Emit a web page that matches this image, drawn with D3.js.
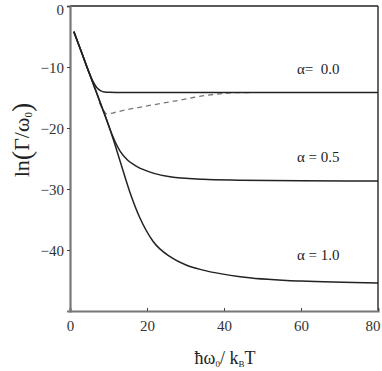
<!DOCTYPE html>
<html>
<head>
<meta charset="utf-8">
<script src="https://cdn.jsdelivr.net/npm/d3@7"></script>
<style>
  body { margin: 0; background: #fff; }
  svg, svg text { font-family: "Liberation Serif", "DejaVu Serif", serif; }
</style>
</head>
<body>
<svg width="382" height="371"></svg>
<script>
const svg = d3.select("svg");

// data
const xTicks = [0, 20, 40, 60, 80];
const yTicks = [0, -10, -20, -30, -40];

const alpha00X = [1, 3, 5, 6, 7, 8, 9, 10, 14, 30, 60, 80];
const alpha00Y = [-4.2, -7.6, -11.0, -12.4, -13.4, -13.9, -14.1, -14.15, -14.2, -14.2, -14.2, -14.2];

const dashedX = [7.6, 8.6, 9.6, 12, 14.7, 19, 23.4, 28, 32, 36, 40.7, 44, 47];
const dashedY = [-15.8, -17.0, -17.7, -17.4, -17.0, -16.5, -16.0, -15.5, -15.0, -14.6, -14.3, -14.2, -14.2];

const alpha05X = [1, 3, 5, 7, 9.5, 11, 13, 15, 17.3, 21.6, 26, 34.5, 44, 60, 80];
const alpha05Y = [-4.2, -7.6, -11.0, -14.4, -18.6, -21.2, -23.8, -25.3, -26.3, -27.4, -28.0, -28.4, -28.55, -28.65, -28.7];

const alpha10X = [1, 3, 5, 7, 9, 11, 13, 15.6, 18.2, 21.6, 26, 30.3, 34.6, 44.2, 60, 80];
const alpha10Y = [-4.2, -7.6, -11.0, -14.4, -17.8, -21.4, -25.4, -30.6, -34.8, -38.6, -41.1, -42.5, -43.3, -44.4, -45.1, -45.4];

const labels = ["α=\u00a0 0.0", "α = 0.5", "α = 1.0"];
const labelY = [-11.2, -25.6, -41.6];

const x = d3.scaleLinear().domain([0, 80]).range([70, 378]);
const y = d3.scaleLinear().domain([-50, 0]).range([311, 6]);

const line = d3.line()
  .x(d => x(d[0]))
  .y(d => y(d[1]))
  .curve(d3.curveMonotoneX);

function pts(xs, ys) { return xs.map((v, i) => [v, ys[i]]); }

// frame
svg.append("line").attr("x1", x(0)).attr("x2", x(80)).attr("y1", y(0)).attr("y2", y(0))
  .attr("stroke", "#222").attr("stroke-width", 1.5);
svg.append("line").attr("x1", x(80)).attr("x2", x(80)).attr("y1", y(0)).attr("y2", y(-50))
  .attr("stroke", "#333").attr("stroke-width", 1.5);

// axes
const xAxis = svg.append("g")
  .attr("transform", `translate(0,${y(-50)})`)
  .call(d3.axisBottom(x).tickValues(xTicks).tickSize(-3).tickPadding(9).tickFormat(d3.format("d")));
const yAxis = svg.append("g")
  .attr("transform", `translate(${x(0)},0)`)
  .call(d3.axisLeft(y).tickValues(yTicks).tickSize(3).tickPadding(3)
    .tickFormat(d => d === 0 ? "0" : "\u2212" + Math.abs(d)));

[xAxis, yAxis].forEach(a => {
  a.attr("font-family", "'Liberation Serif', serif");
  a.select(".domain").attr("stroke", "#777").attr("stroke-width", 2.2);
  a.selectAll(".tick line").attr("stroke", "#444");
  a.selectAll("text").attr("font-size", 15).attr("fill", "#333");
});
xAxis.selectAll(".tick").filter(d => d === 80).select("text").attr("text-anchor", "end").attr("dx", 2);
yAxis.selectAll(".tick text").attr("dy", "0.35em");
yAxis.selectAll(".tick").filter(d => d === 0).select("text").attr("dy", "0.55em");

// curves
svg.append("path").datum(pts(dashedX, dashedY)).attr("d", line)
  .attr("fill", "none").attr("stroke", "#777").attr("stroke-width", 1.3).attr("stroke-dasharray", "5,4");

[[alpha00X, alpha00Y], [alpha05X, alpha05Y], [alpha10X, alpha10Y]].forEach(s => {
  svg.append("path").datum(pts(s[0], s[1])).attr("d", line)
    .attr("fill", "none").attr("stroke", "#222").attr("stroke-width", 1.5);
});

// curve labels
svg.selectAll(".lab").data(labels).enter().append("text")
  .attr("class", "lab")
  .attr("x", 297)
  .attr("y", (d, i) => y(labelY[i]))
  .attr("font-size", 15).attr("fill", "#222")
  .text(d => d);

// axis titles
const xt = svg.append("text").attr("x", 225).attr("y", 364).attr("text-anchor", "middle")
  .attr("font-size", 18).attr("fill", "#222");
xt.append("tspan").text("ħω");
xt.append("tspan").attr("font-size", 9).attr("dy", 3).text("0");
xt.append("tspan").attr("dy", -3).text("/ k");
xt.append("tspan").attr("font-size", 9).attr("dy", 3).text("B");
xt.append("tspan").attr("dy", -3).text("T");

const yt = svg.append("text").attr("transform", "translate(29,140) rotate(-90)")
  .attr("text-anchor", "middle").attr("font-size", 22).attr("fill", "#222");
yt.append("tspan").text("ln");
yt.append("tspan").attr("font-size", 28).attr("dy", 2).text("(");
yt.append("tspan").attr("font-size", 22).attr("dy", -2).text("Γ/ω");
yt.append("tspan").attr("font-size", 11).attr("dy", 3).text("0");
yt.append("tspan").attr("font-size", 28).attr("dy", -1).text(")");
</script>
</body>
</html>
